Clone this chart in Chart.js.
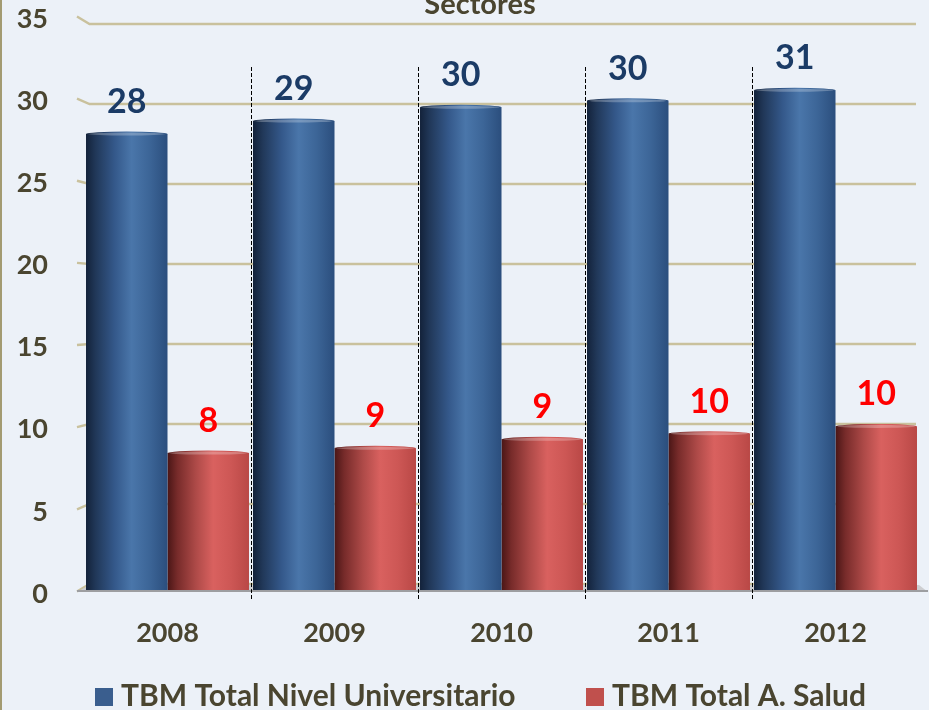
<!DOCTYPE html>
<html><head><meta charset="utf-8">
<script src="https://cdn.jsdelivr.net/npm/chart.js@4.4.1/dist/chart.umd.min.js"></script>
<style>
html,body{margin:0;padding:0;background:#ecf1f8;overflow:hidden;}
#wrap{position:relative;width:929px;height:710px;}
canvas{display:block;}
</style></head><body>
<div id="wrap"><canvas id="c" width="929" height="710"></canvas></div>
<script>
// ---- data ----
const categories = ['2008', '2009', '2010', '2011', '2012'];
const seriesNames = ['TBM Total Nivel Universitario', 'TBM Total A. Salud'];
const universitario = [28.15, 28.95, 29.8, 30.2, 30.85];
const salud = [8.45, 8.75, 9.3, 9.65, 10.1];
const yTicks = [0, 5, 10, 15, 20, 25, 30, 35];
const titleText = 'Sectores';

// ---- styles ----
const FONT = 'Lato, "Open Sans", sans-serif';
const AXIS_TXT = '#4a4530';
const GRID_COL = '#c9c19d';
const BG = '#ecf1f8';
const seriesColors = ['#3a5e8e', '#c0504d'];
const labelColors = ['#1b3b66', '#ff0000'];
const gradStops = [
  [[0, '#13223a'], [0.12, '#213859'], [0.35, '#34588a'], [0.56, '#4a76aa'], [0.78, '#3c6597'], [1, '#2b4e7d']],
  [[0, '#4a1616'], [0.12, '#772b2a'], [0.35, '#ae4a48'], [0.56, '#d9615f'], [0.78, '#cd5755'], [1, '#b94846']]
];

const deco = {
  id: 'deco',
  beforeDraw(chart) {
    const ctx = chart.ctx;
    ctx.save();
    ctx.fillStyle = BG;
    ctx.fillRect(0, 0, chart.width, chart.height);
    ctx.fillStyle = '#a39b72';
    ctx.fillRect(0, 0, 2, chart.height);
    ctx.restore();
  },
  beforeDatasetsDraw(chart) {
    const ctx = chart.ctx;
    const yg = chart.scales.yg, yl = chart.scales.yl, area = chart.chartArea;
    const xFront = 77, xBack = 89.5, xEnd = 916;
    ctx.save();
    // back-wall gridlines with perspective stubs
    ctx.strokeStyle = GRID_COL;
    ctx.lineWidth = 2.4;
    yTicks.forEach(v => {
      const yb = yg.getPixelForValue(v);
      const yf = yl.getPixelForValue(v) - 2.5;
      ctx.beginPath();
      ctx.moveTo(xFront, yf);
      ctx.lineTo(xBack, yb);
      ctx.lineTo(xEnd, yb);
      ctx.stroke();
    });
    // floor
    const yb0 = yg.getPixelForValue(0) + 1;
    const yf0 = yl.getPixelForValue(0) - 2;
    ctx.fillStyle = '#cdced1';
    ctx.beginPath();
    ctx.moveTo(xBack, yb0);
    ctx.lineTo(area.right, yb0);
    ctx.lineTo(area.right + 9, yf0);
    ctx.lineTo(xFront, yf0);
    ctx.closePath();
    ctx.fill();
    ctx.strokeStyle = '#9d9ea1';
    ctx.lineWidth = 2;
    ctx.beginPath();
    ctx.moveTo(xFront, yf0 - 1);
    ctx.lineTo(area.right + 9, yf0 - 1);
    ctx.stroke();
    // bar gradients
    chart.data.datasets.forEach((ds, di) => {
      const meta = chart.getDatasetMeta(di);
      meta.data.forEach(el => {
        const l = el.x - el.width / 2, r = el.x + el.width / 2;
        const g = ctx.createLinearGradient(l, 0, r, 0);
        gradStops[di].forEach(s => g.addColorStop(s[0], s[1]));
        el.options.backgroundColor = g;
      });
    });
    ctx.restore();
  },
  afterDatasetsDraw(chart) {
    const ctx = chart.ctx;
    const xs = chart.scales.x;
    ctx.save();
    // bar top caps + value labels
    chart.data.datasets.forEach((ds, di) => {
      const meta = chart.getDatasetMeta(di);
      meta.data.forEach((el, i) => {
        const l = el.x - el.width / 2;
        const g = ctx.createLinearGradient(l, 0, l + el.width, 0);
        gradStops[di].forEach(s => g.addColorStop(s[0], s[1]));
        ctx.fillStyle = g;
        ctx.beginPath();
        ctx.ellipse(el.x, el.y, el.width / 2, 2.5, 0, 0, Math.PI * 2);
        ctx.fill();
        ctx.fillStyle = 'rgba(255,255,255,0.25)';
        ctx.beginPath();
        ctx.ellipse(el.x, el.y, el.width / 2 - 2, 1.5, 0, 0, Math.PI * 2);
        ctx.fill();
        ctx.fillStyle = labelColors[di];
        ctx.font = 'bold 34px ' + FONT;
        ctx.textAlign = 'center';
        ctx.textBaseline = 'alphabetic';
        ctx.fillText(String(Math.round(ds.data[i])), el.x, el.y - 21);
      });
    });
    // dashed category separators
    ctx.strokeStyle = '#000';
    ctx.lineWidth = 1;
    ctx.setLineDash([4, 2]);
    for (let i = 0; i < categories.length - 1; i++) {
      const x = Math.round((xs.getPixelForValue(i) + xs.getPixelForValue(i + 1)) / 2) + 0.5;
      ctx.beginPath();
      ctx.moveTo(x, 67);
      ctx.lineTo(x, 600);
      ctx.stroke();
    }
    ctx.restore();
  },
  afterDraw(chart) {
    const ctx = chart.ctx;
    ctx.save();
    // title (cut at top)
    ctx.fillStyle = AXIS_TXT;
    ctx.font = 'bold 29px ' + FONT;
    ctx.textAlign = 'center';
    ctx.textBaseline = 'alphabetic';
    ctx.fillText(titleText, 480, 14);
    // legend
    ctx.font = 'bold 30px ' + FONT;
    const boxX = [95, 586];
    ctx.textAlign = 'left';
    seriesNames.forEach((n, i) => {
      ctx.fillStyle = seriesColors[i];
      ctx.fillRect(boxX[i], 688, 18, 18);
      ctx.fillStyle = AXIS_TXT;
      ctx.fillText(n, boxX[i] + 26, 706);
    });
    ctx.restore();
  }
};

function build() {
  new Chart(document.getElementById('c'), {
    type: 'bar',
    data: {
      labels: categories,
      datasets: [
        { label: seriesNames[0], data: universitario, backgroundColor: () => seriesColors[0], borderWidth: 0, yAxisID: 'y' },
        { label: seriesNames[1], data: salud, backgroundColor: () => seriesColors[1], borderWidth: 0, yAxisID: 'y' }
      ]
    },
    options: {
      responsive: false,
      animation: false,
      devicePixelRatio: 1,
      events: [],
      layout: { padding: { top: 25, right: 10, bottom: 64, left: 0 } },
      datasets: { bar: { barPercentage: 1, categoryPercentage: 0.976 } },
      plugins: { legend: { display: false }, title: { display: false }, tooltip: { enabled: false } },
      scales: {
        x: {
          grid: { display: false, drawTicks: false },
          border: { display: false },
          ticks: { padding: 27, color: AXIS_TXT, font: { family: FONT, weight: 'bold', size: 27 } },
          afterFit: s => { s.height = 56; s.paddingLeft = 0; s.paddingRight = 0; }
        },
        y: { display: false, min: 0, max: 34.88 },
        yg: { display: false, min: -0.375, max: 34.94 },
        yl: {
          position: 'left', min: 0.243, max: 34.63,
          afterBuildTicks: s => { s.ticks = yTicks.map(v => ({ value: v })); },
          grid: { display: false, drawTicks: false },
          border: { display: false },
          ticks: { autoSkip: false, padding: 36, color: AXIS_TXT, font: { family: FONT, weight: 'bold', size: 27 } },
          afterFit: s => { s.width = 84; s.paddingTop = 0; s.paddingBottom = 0; }
        }
      }
    },
    plugins: [deco]
  });
}
const fl = document.fonts && document.fonts.load ? Promise.all([document.fonts.load('bold 27px Lato'), document.fonts.load('bold 34px Lato')]) : Promise.resolve();
fl.then(build, build);
</script>
</body></html>
